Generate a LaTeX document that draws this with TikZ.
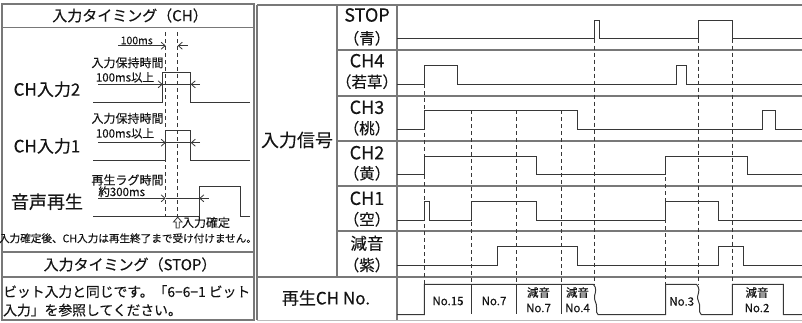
\documentclass[tikz,border=0pt]{standalone}
\usepackage{fontspec}
\setmainfont{Noto Sans CJK JP}[FakeBold=0.25]
\usetikzlibrary{arrows.meta}
\definecolor{frame}{RGB}{120,120,120}
\definecolor{wave}{RGB}{55,55,55}
\definecolor{txt}{RGB}{20,20,20}
\tikzset{
  fr/.style={draw=frame,line width=1.2pt},
  wv/.style={draw=wave,line width=1pt},
  dsh/.style={draw=wave,line width=0.9pt,dash pattern=on 4pt off 3pt},
  ar/.style={draw=wave,line width=0.8pt,-{Straight Barb[length=4pt,width=7pt]}},
  tx/.style={inner sep=0pt,text=txt},
  big/.style={tx,font=\fontsize{17}{20}\selectfont},
  ttl/.style={tx,font=\fontsize{15}{18}\selectfont},
  lab/.style={tx,font=\fontsize{18}{20}\selectfont},
  labj/.style={tx,font=\fontsize{16.5}{20}\selectfont},
  labp/.style={tx,font=\fontsize{15.5}{18}\selectfont},
  sm/.style={tx,font=\fontsize{12}{14}\selectfont},
  nm/.style={tx,font=\fontsize{11.5}{13}\selectfont},
}
\begin{document}
\begin{tikzpicture}[x=1pt,y=-1pt]
\useasboundingbox (0,0) rectangle (802,322);
% ---------------- left panel ----------------
\draw[fr] (2,4) rectangle (254,320);
\draw[fr] (2,27.5) -- (254,27.5);
\draw[fr] (2,252) -- (254,252);
\draw[fr] (2,277) -- (254,277);
\node[ttl] (t1) at (130,15.5) {入力タイミング（CH）};
\node[ttl] (t2) at (130,264.5) {入力タイミング（STOP）};
\node[tx,font=\fontsize{13.8}{18.4}\selectfont,anchor=north west,align=left] (stoptxt) at (3,285)
  {ビット入力と同じです。「6−6−1 ビット\\入力」を参照してください。};
% dashed guides
\draw[dsh] (165.7,32) -- (165.7,216);
\draw[dsh] (177.7,32) -- (177.7,216.5);
% 100ms
\node[tx,font=\fontsize{10.5}{12}\selectfont] (l100) at (136.7,40.5) {100ms};
\coordinate (a1s) at (118,45.7); \coordinate (a1e) at (165.7,45.7);
\coordinate (a2s) at (187.5,45.7); \coordinate (a2e) at (177.7,45.7);
\draw[ar] (a1s) -- (a1e);
\draw[ar] (a2s) -- (a2e);
% CH input 2
\node[sm] (h2) at (127.5,62.7) {入力保持時間};
\node[tx,font=\fontsize{11.5}{13}\selectfont] (m2) at (125,77.3) {100ms以上};
\node[big] (ch2) at (47,89.3) {CH入力2};
\draw[wv] (93.3,102.7) -- (162.7,102.7) -- (162.7,72.3) -- (190.7,72.3) -- (190.7,102.7) -- (250,102.7);
\coordinate (b1) at (98.3,84.3); \coordinate (b2) at (162.7,84.3);
\coordinate (b3) at (190.7,84.3); \coordinate (b4) at (200,84.3);
\draw[ar] (b1) -- (b2);
\draw[wv,line width=0.8pt] (b2) -- (b3);
\draw[ar] (b4) -- (b3);
% CH input 1
\node[sm] (h1) at (127.5,118.3) {入力保持時間};
\node[tx,font=\fontsize{11.5}{13}\selectfont] (m1) at (125,133.3) {100ms以上};
\node[big] (ch1) at (47,146) {CH入力1};
\draw[wv] (93.3,160.7) -- (165.7,160.7) -- (165.7,130) -- (190.7,130) -- (190.7,160.7) -- (250,160.7);
\coordinate (c1) at (98.3,142.7); \coordinate (c2) at (165.7,142.7);
\coordinate (c3) at (190.7,142.7); \coordinate (c4) at (200,142.7);
\draw[ar] (c1) -- (c2);
\draw[wv,line width=0.8pt] (c2) -- (c3);
\draw[ar] (c4) -- (c3);
% audio
\node[sm] (lag) at (127.5,180) {再生ラグ時間};
\node[tx,font=\fontsize{11.5}{13}\selectfont] (m3) at (121.7,191.7) {約300ms};
\node[tx,font=\fontsize{18}{21}\selectfont] (snd) at (47,201.7) {音声再生};
\draw[wv] (93.3,216) -- (199.3,216) -- (199.3,186.3) -- (240,186.3) -- (240,216) -- (250,216);
\coordinate (d1) at (98.3,198.3); \coordinate (d2) at (165.7,198.3);
\coordinate (d3) at (199.3,198.3); \coordinate (d4) at (208.5,198.3);
\draw[ar] (d1) -- (d2);
\draw[wv,line width=0.8pt] (d2) -- (d3);
\draw[ar] (d4) -- (d3);
% hollow up arrow + label
\draw[draw=wave,line width=0.8pt,line join=miter] (177.7,217.2) -- (182,222) -- (179.3,222) -- (179.3,228) -- (176.1,228) -- (176.1,222) -- (173.4,222) -- cycle;
\node[tx,font=\fontsize{12}{14}\selectfont] (kakutei) at (206,222.5) {入力確定};
\node[tx,font=\fontsize{10.6}{12}\selectfont] (note) at (128,238.3) {入力確定後、CH入力は再生終了まで受け付けません。};
% ---------------- right panel ----------------
\draw[fr] (257,5) -- (802,5);
\draw[fr] (257,5) -- (257,320);
\draw[fr] (337,5) -- (337,277);
\draw[fr] (397,5) -- (397,320);
\foreach \yy in {50,96,141,186,231} \draw[fr] (337,\yy) -- (802,\yy);
\draw[fr] (257,277) -- (802,277);
\draw[draw=frame!50,line width=0.8pt] (257,320) -- (802,320);
\node[tx,font=\fontsize{18}{21}\selectfont] (sig) at (297,140) {入力信号};
\node[tx,font=\fontsize{17}{20}\selectfont] (play) at (326,298) {再生CH No.};
\node[lab] (s1a) at (367,15) {STOP};   \node[labp] (s1b) at (367,38.3) {（青）};
\node[lab] (s2a) at (367,60.7) {CH4};  \node[labp] (s2b) at (367,81.7) {（若草）};
\node[lab] (s3a) at (367,107.3) {CH3}; \node[labp] (s3b) at (367,128.3) {（桃）};
\node[lab] (s4a) at (367,152.7) {CH2}; \node[labp] (s4b) at (367,173.3) {（黄）};
\node[lab] (s5a) at (367,198.3) {CH1}; \node[labp] (s5b) at (367,219.3) {（空）};
\node[labj] (s6a) at (367,243.3) {減音}; \node[labp] (s6b) at (367,265) {（紫）};
% dashed time markers
\draw[dsh] (424.3,84.3) -- (424.3,284.3);
\draw[dsh] (471.7,110.3) -- (471.7,284.3);
\draw[dsh] (516.3,110.3) -- (516.3,284.3);
\draw[dsh] (561,110.3) -- (561,284.3);
\draw[dsh] (594,38.7) -- (594,284.3);
\draw[dsh] (665.7,156) -- (665.7,284.3);
\draw[dsh] (698.3,38.7) -- (698.3,284.3);
\draw[dsh] (732.3,38.7) -- (732.3,284.3);
% waveforms
\draw[wv] (397,38.7) -- (594,38.7) -- (594,20) -- (599.7,20) -- (599.7,38.7) -- (698.3,38.7) -- (698.3,20) -- (732.3,20) -- (732.3,38.7) -- (802,38.7);
\draw[wv] (397,84.3) -- (424.3,84.3) -- (424.3,65.7) -- (457,65.7) -- (457,84.3) -- (676.7,84.3) -- (676.7,65.7) -- (686.3,65.7) -- (686.3,84.3) -- (802,84.3);
\draw[wv] (397,129) -- (424.3,129) -- (424.3,110.3) -- (577,110.3) -- (577,129) -- (762.7,129) -- (762.7,110.3) -- (775.7,110.3) -- (775.7,129) -- (802,129);
\draw[wv] (397,174.3) -- (424.3,174.3) -- (424.3,156) -- (536,156) -- (536,174.3) -- (665.7,174.3) -- (665.7,156) -- (747,156) -- (747,174.3) -- (802,174.3);
\draw[wv] (397,220.3) -- (424.3,220.3) -- (424.3,201.7) -- (429.3,201.7) -- (429.3,220.3) -- (471.7,220.3) -- (471.7,201.7) -- (536,201.7) -- (536,220.3) -- (665.7,220.3) -- (665.7,201.7) -- (718.7,201.7) -- (718.7,220.3) -- (802,220.3);
\draw[wv] (397,265.3) -- (497.7,265.3) -- (497.7,246.7) -- (577,246.7) -- (577,265.3) -- (718.7,265.3) -- (718.7,246.7) -- (743.7,246.7) -- (743.7,265.3) -- (802,265.3);
% playback row
\draw[wv] (397,314.5) -- (424.3,314.5) -- (424.3,284.3) -- (593.3,284.3)
  .. controls (597,288) and (595.5,292) .. (594.5,296)
  .. controls (593.5,300) and (597.5,304) .. (596.5,308)
  .. controls (596,311) and (596.5,313.5) .. (598,314.5)
  -- (665.7,314.5) -- (665.7,284.3) -- (696.5,284.3)
  .. controls (700.2,288) and (698.7,292) .. (697.7,296)
  .. controls (696.7,300) and (700.7,304) .. (699.7,308)
  .. controls (699.2,311) and (699.7,313.5) .. (701.2,314.5)
  -- (732.3,314.5) -- (732.3,284.3) -- (783.3,284.3) -- (783.3,314.5) -- (802,314.5);
\foreach \xx in {471.7,516.3,561} \draw[wv] (\xx,284.3) -- (\xx,313.5);
\node[nm] (n15) at (448,301) {No.15};
\node[nm] (n7) at (494,301) {No.7};
\node[nm] (g7a) at (538.5,292.5) {減音}; \node[nm] (g7b) at (538.5,308) {No.7};
\node[nm] (g4a) at (577.5,292.5) {減音}; \node[nm] (g4b) at (577.5,308) {No.4};
\node[nm] (n3) at (681.7,301.5) {No.3};
\node[nm] (g2a) at (757,292.5) {減音}; \node[nm] (g2b) at (757,308) {No.2};
\end{tikzpicture}
\end{document}
